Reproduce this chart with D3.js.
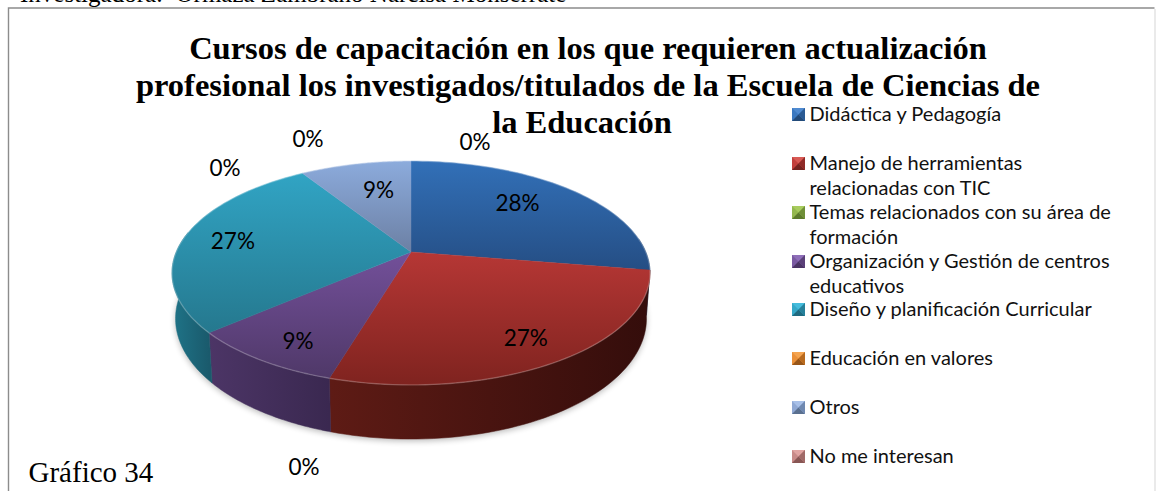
<!DOCTYPE html>
<html><head><meta charset="utf-8">
<script src="https://cdn.jsdelivr.net/npm/d3@7/dist/d3.min.js"></script>
<style>html,body{margin:0;padding:0;background:#fff;overflow:hidden}svg{display:block}</style>
</head><body><svg id="c" width="1156" height="491"></svg>
<script>
const categories = ["Didáctica y Pedagogía","Manejo de herramientas relacionadas con TIC","Temas relacionados con su área de formación","Organización y Gestión de centros educativos","Diseño y planificación Curricular","Educación en valores","Otros","No me interesan"];
const values = [27.6,27,0,9,27.4,0,9,0];
const legendLines = [["Didáctica y Pedagogía"],["Manejo de herramientas","relacionadas con TIC"],["Temas relacionados con su área de","formación"],["Organización y Gestión de centros","educativos"],["Diseño y planificación Curricular"],["Educación en valores"],["Otros"],["No me interesan"]];
const legendY = [114,163,212,261,309,358,407,456];
const topColors = [["#3270b8","#254e84"],["#b63735","#7f231f"],["#8db04a","#6d8a38"],["#73509a","#4f3868"],["#31a4c4","#25788e"],["#e08a30","#b06a20"],["#8cabdc","#6c80a4"],["#c07a78","#986060"]];
const sideColors = [["#1d3a60","#1d3a60"],["#5e1b15","#340d0b"],["#55702a","#405520"],["#4c3566","#3a2850"],["#1f7488","#1a5a6c"],["#8a5010","#6a4010"],["#4a5a78","#3a4a68"],["#6a4040","#5a3030"]];
const swatchColors = [["#3a78c0","#2a5a94","#4f8ad0","#234a78"],["#c23f3c","#8f2a27","#d85a55","#742320"],["#94b84e","#6f8f38","#a8cc5e","#5c7a2c"],["#7a5aa2","#5a4078","#8e6eb8","#4a3464"],["#35a8c8","#27809a","#46bcdc","#1f6a80"],["#ea9038","#b86a1e","#f4a450","#985618"],["#8fa8d4","#6f88b0","#a8c0e8","#5a7090"],["#c88a88","#a06a68","#e0a4a2","#885654"]];
const labelledSlices = [0,1,3,4,6];
const zeroLabels = ["0%","0%","0%","0%"];
const zeroLabelX = [475,225,308,304];
const zeroLabelY = [150,176,147,475];
const titleLines = ["Cursos de capacitación en los que requieren actualización","profesional los investigados/titulados de la Escuela de Ciencias de","la Educación"];

const svg = d3.select("#c");
const defs = svg.append("defs");
const W=1156;

// Frame and clipped header line
svg.append("text").attr("x",20).attr("y",2).attr("font-family","Liberation Serif").attr("font-size",25).attr("fill","#000").text("Investigadora:\u00a0\u00a0Ormaza Zambrano Narcisa Monserrate");
svg.append("rect").attr("x",0).attr("y",7).attr("width",W).attr("height",484).attr("fill","#fff");
svg.append("path").attr("d","M8.5 491V8H1154.5").attr("fill","none").attr("stroke","#8c8c8c").attr("stroke-width",1.4);
svg.append("line").attr("x1",1155).attr("x2",1155).attr("y1",9).attr("y2",491).attr("stroke","#dcdcdc").attr("stroke-width",1.2);

// Perspective pie
const cx=411, cy=252, R=234.8, S=108, a=-0.1875, depth=44;
const pie = d3.pie().sort(null).value(d=>d.v);
const arcs = pie(values.map((v,i)=>({v,i})));
const topPt = th => { const u=Math.sin(th), v=-Math.cos(th), w=1+a*v; return [cx+R*u/w, cy+S*v/w]; };
const botPt = th => { const u=Math.sin(th), v=-Math.cos(th), w=1+a*v; return [cx+0.985*R*u/w, cy+S*v/w+depth/w]; };
const line = d3.line();
const steps=(s,e)=>d3.range(0,61).map(k=>s+(e-s)*k/60);

// soft shadow
const blur = defs.append("filter").attr("id","sh").attr("x","-10%").attr("y","-10%").attr("width","120%").attr("height","130%");
blur.append("feGaussianBlur").attr("stdDeviation",3);
svg.append("path").attr("d",line(steps(Math.PI*0.42,Math.PI*1.58).map(t=>{const p=botPt(t);return [p[0],p[1]+2];}))+"Z").attr("fill","#000").attr("opacity",0.28).attr("filter","url(#sh)");

const grad=(id,c,x1,y1,x2,y2)=>{const g=defs.append("linearGradient").attr("id",id).attr("gradientUnits","userSpaceOnUse").attr("x1",x1).attr("y1",y1).attr("x2",x2).attr("y2",y2);
  g.append("stop").attr("offset",0).attr("stop-color",c[0]);g.append("stop").attr("offset",1).attr("stop-color",c[1]);};

const live = arcs.filter(d=>d.data.v>0);
// outer sides: only the front half is visible
const visS=Math.PI*0.46, visE=Math.PI*1.56;
live.forEach(d=>{
  const s=Math.max(d.startAngle,visS), e=Math.min(d.endAngle,visE);
  if(e<=s) return;
  const tops=steps(s,e).map(topPt), bots=steps(e,s).map(botPt);
  const xs=tops.map(p=>p[0]);
  grad("side"+d.data.i,sideColors[d.data.i],d3.min(xs),0,d3.max(xs),0);
  svg.append("path").attr("d",line(tops.concat(bots))+"Z").attr("fill",`url(#side${d.data.i})`).attr("stroke",`url(#side${d.data.i})`).attr("stroke-width",0.5);
});
// top faces
live.forEach(d=>{
  const pts=steps(d.startAngle,d.endAngle).map(topPt);
  const all=pts.concat([[cx,cy]]);
  const ys=all.map(p=>p[1]);
  grad("top"+d.data.i,topColors[d.data.i],0,d3.min(ys),0,d3.max(ys));
  svg.append("path").attr("d",line(all)+"Z").attr("fill",`url(#top${d.data.i})`).attr("stroke",`url(#top${d.data.i})`).attr("stroke-width",0.4);
  svg.append("path").attr("d",line(pts)).attr("fill","none").attr("stroke","#fff").attr("stroke-opacity",0.22).attr("stroke-width",1.4);
});

// Data labels placed from slice mid-angle, with small nudges
const labelFrac={0:0.70,1:0.64,3:0.70,4:0.72,6:0.62};
const labelOff={0:[-9,-3],1:[26,22],3:[-13,19],4:[-14,1],6:[4,-3]};
const font="Lato, Carlito, 'Open Sans', sans-serif";
const pct=v=>Math.round(v)+"%";
labelledSlices.forEach(i=>{
  const d=arcs[i], th=(d.startAngle+d.endAngle)/2, f=labelFrac[i];
  const u=Math.sin(th)*f, v=-Math.cos(th)*f, w=1+a*v;
  svg.append("text").attr("x",cx+R*u/w+labelOff[i][0]).attr("y",cy+S*v/w+labelOff[i][1]+7).attr("text-anchor","middle").attr("font-family",font).attr("font-size",22.5).attr("fill","#000").text(pct(d.data.v));
});
zeroLabels.forEach((t,k)=>{
  svg.append("text").attr("x",zeroLabelX[k]).attr("y",zeroLabelY[k]).attr("text-anchor","middle").attr("font-family",font).attr("font-size",22.5).attr("fill","#000").text(t);
});

// Title
const tt=svg.append("g").attr("font-family","Liberation Serif").attr("font-weight","bold").attr("font-size",32.5).attr("fill","#000").attr("text-anchor","middle");
titleLines.forEach((t,i)=>tt.append("text").attr("x",i==2?582:588).attr("y",59+i*37).text(t));

// Legend
const lg=svg.append("g");
legendLines.forEach((ls,i)=>{
  const y=legendY[i], x=792, s=13, c=swatchColors[i], g=lg.append("g").attr("transform",`translate(${x},${y-6})`);
  g.append("rect").attr("width",s).attr("height",s).attr("fill",c[0]);
  g.append("path").attr("d",`M0 0L${s} 0L${s/2} ${s/2}Z`).attr("fill",c[2]);
  g.append("path").attr("d",`M0 ${s}L${s} ${s}L${s/2} ${s/2}Z`).attr("fill",c[3]);
  g.append("path").attr("d",`M${s} 0L${s} ${s}L${s/2} ${s/2}Z`).attr("fill",c[1]);
  ls.forEach((t,j)=>lg.append("text").attr("x",809.5).attr("y",y+6.5+j*25.5).attr("font-family",font).attr("font-size",20).attr("fill","#111").text(t));
});

// Caption
svg.append("text").attr("x",28.5).attr("y",482).attr("font-family","Liberation Serif").attr("font-size",29).attr("fill","#000").text("Gráfico 34");
</script></body></html>
